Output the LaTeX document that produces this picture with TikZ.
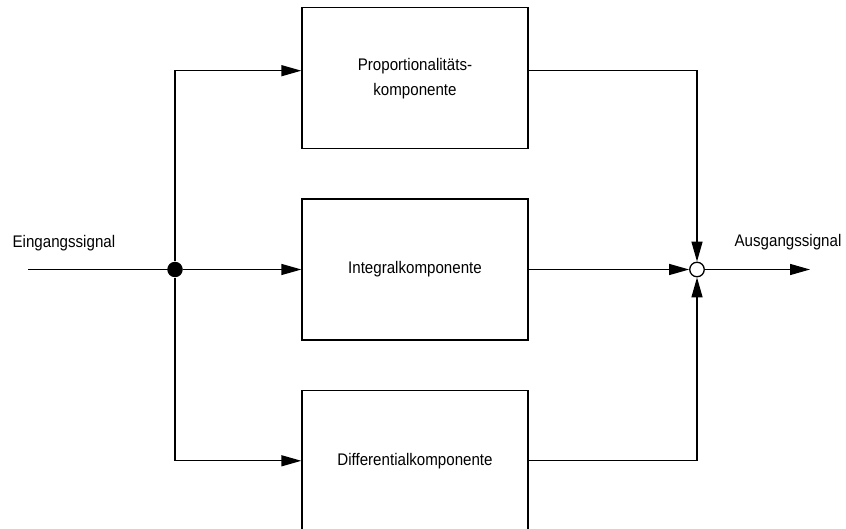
\documentclass[tikz,border=0pt]{standalone}
\usepackage{fontspec}
\setmainfont[FakeStretch=0.9]{Liberation Sans}
\usetikzlibrary{positioning,arrows.meta}

\begin{document}
\begin{tikzpicture}[x=1pt,y=-1pt,>={Triangle[length=20pt,width=11pt]},node distance=49pt and 126pt,
  line width=1.3pt,
  block/.style={draw,minimum width=226pt,minimum height=141pt,align=center,inner sep=0pt,font=\fontsize{16.8}{25}\selectfont},
  lbl/.style={anchor=west,inner sep=0pt,font=\fontsize{16.8}{18}\selectfont},
  splitdot/.style={circle,fill=black,minimum size=15.5pt,inner sep=0pt},
  sumdot/.style={circle,draw,fill=white,minimum size=14.5pt,inner sep=0pt}]
\useasboundingbox (0,0) rectangle (846,529);
\node[block] (integ) at (415,269.5) {Integralkomponente};
\node[block,above=of integ] (prop) {Proportionalitäts-\\komponente};
\node[block,below=of integ] (diff) {Differentialkomponente};
\coordinate (in) at (28,269.5);
\coordinate (out) at (810,269.5);
\node[lbl] (inlbl) at (12,243) {Eingangssignal};
\node[lbl] (outlbl) at (734,242) {Ausgangssignal};
\draw (in) -- (175,269.5) node[splitdot] (split) {};
\node[sumdot] (sum) at (697,269.5) {};
\draw[->] (split) -- (integ);
\draw[->] (split) |- ([yshift=7.5pt]prop.west);
\draw[->] (split) |- (diff.west);
\draw[->] ([yshift=7.5pt]prop.east) -| (sum);
\draw[->] (integ) -- (sum);
\draw[->] (diff.east) -| (sum);
\draw[->] (sum) -- (out);
\end{tikzpicture}
\end{document}
